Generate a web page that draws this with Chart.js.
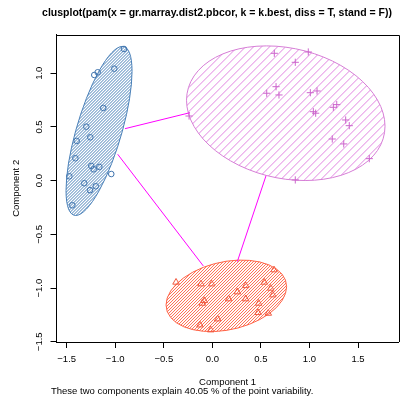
<!DOCTYPE html>
<html>
<head>
<meta charset="utf-8">
<script src="https://cdn.jsdelivr.net/npm/chart.js@4.4.0/dist/chart.umd.min.js"></script>
<style>
  html, body { margin: 0; padding: 0; background: #fff; }
  #wadah { width: 416px; height: 404px; }
</style>
</head>
<body>
<div id="wadah"><canvas id="grafik" width="416" height="404"></canvas></div>
<script>
// teks
const judul = 'clusplot(pam(x = gr.marray.dist2.pbcor, k = k.best, diss = T, stand = F))';
const subJudul = 'These two components explain 40.05 % of the point variability.';
const labelX = 'Component 1';
const labelY = 'Component 2';

// tick sumbu
const tickX = [-1.5, -1.0, -0.5, 0.0, 0.5, 1.0, 1.5];
const tickY = [-1.5, -1.0, -0.5, 0.0, 0.5, 1.0];

// klaster 1 (lingkaran biru)
const klaster1X = [-0.910, -1.010, -1.181, -1.216, -1.123, -1.298, -1.257, -1.397, -1.411,
                   -1.247, -1.164, -1.222, -1.041, -1.473, -1.319, -1.201, -1.260, -1.442];
const klaster1Y = [1.226, 1.043, 1.009, 0.984, 0.677, 0.503, 0.404, 0.370, 0.209,
                   0.137, 0.128, 0.106, 0.062, 0.041, -0.024, -0.052, -0.089, -0.229];

// klaster 2 (plus magenta)
const klaster2X = [0.638, 0.988, 0.854, 0.656, 0.560, 0.686, 1.009, 1.078, 1.040, 1.064,
                   1.246, 1.281, 1.373, 1.410, 1.235, 1.353, 1.616, -0.240, 0.854];
const klaster2Y = [1.186, 1.198, 1.102, 0.875, 0.814, 0.798, 0.819, 0.835, 0.642, 0.628,
                   0.683, 0.708, 0.565, 0.512, 0.388, 0.342, 0.205, 0.602, 0.007];

// klaster 3 (segitiga merah)
const klaster3X = [0.635, -0.374, -0.117, -0.007, 0.535, 0.343, 0.601, 0.257, 0.622, 0.168,
                   0.343, -0.083, -0.104, 0.477, 0.470, 0.576, 0.055, -0.127, -0.017];
const klaster3Y = [-0.831, -0.946, -0.962, -0.962, -0.946, -0.978, -1.002, -1.036, -1.064, -1.101,
                   -1.101, -1.117, -1.142, -1.142, -1.229, -1.235, -1.288, -1.344, -1.390];

// elips: pusat, setengah diameter sekawan (ke titik paling kanan) dan setengah tali busur vertikal
const elipsPusatX = [-1.167, 0.756, 0.144];
const elipsPusatY = [0.463, 0.628, -1.072];
const elipsUX = [0.340, 1.022, 0.621];
const elipsUY = [0.555, -0.121, 0.085];
const elipsV = [0.558, 0.615, 0.322];

// garis penghubung antar elips
const garisAwalX = [-0.900, -0.975, 0.553];
const garisAwalY = [0.484, 0.246, 0.047];
const garisAkhirX = [-0.230, -0.093, 0.257];
const garisAkhirY = [0.633, -0.794, -0.754];

// warna
const warnaGaris = ['#4a80b8', '#d67ed6', '#ff6347'];
const warnaArsir = ['#4a80b8', '#dd77dd', '#ff6a4d'];
const jarakArsir = [3, 8, 3];
const tebalArsir = [1, 0.9, 1];
const warnaTitik = ['#3f73ad', '#cc66cc', '#f05a40'];

const fontUtama = "'Liberation Sans', Arial, Helvetica, sans-serif";
Chart.defaults.font.family = fontUtama;
Chart.defaults.color = '#000';

function jadikanTitik(xs, ys) {
  return xs.map((x, i) => ({ x: x, y: ys[i] }));
}

function formatAngka(v) {
  return v.toFixed(1).replace('-', '\u2212');
}

function jalurElips(ctx, sx, sy, i) {
  const cx = sx.getPixelForValue(elipsPusatX[i]);
  const cy = sy.getPixelForValue(elipsPusatY[i]);
  const ux = sx.getPixelForValue(elipsPusatX[i] + elipsUX[i]) - cx;
  const uy = sy.getPixelForValue(elipsPusatY[i] + elipsUY[i]) - cy;
  const vy = sy.getPixelForValue(elipsPusatY[i] + elipsV[i]) - cy;
  ctx.beginPath();
  ctx.save();
  ctx.transform(ux, uy, 0, vy, cx, cy);
  ctx.arc(0, 0, 1, 0, Math.PI * 2);
  ctx.restore();
  ctx.closePath();
  return { cx: cx, cy: cy, lx: Math.abs(ux), ly: Math.sqrt(uy * uy + vy * vy) };
}

// plugin untuk elips berarsir (digambar di bawah titik)
const pluginElips = {
  id: 'elips',
  beforeDatasetsDraw(chart) {
    const ctx = chart.ctx;
    const sx = chart.scales.x, sy = chart.scales.y;
    const urutan = [1, 0, 2];
    urutan.forEach(i => {
      ctx.save();
      const b = jalurElips(ctx, sx, sy, i);
      ctx.clip();
      ctx.strokeStyle = warnaArsir[i];
      ctx.lineWidth = tebalArsir[i];
      ctx.beginPath();
      const x0 = b.cx - b.lx - 2, x1 = b.cx + b.lx + 2;
      const y0 = b.cy - b.ly - 2, y1 = b.cy + b.ly + 2;
      for (let k = x0 + y0; k <= x1 + y1; k += jarakArsir[i]) {
        ctx.moveTo(k - y1, y1);
        ctx.lineTo(k - y0, y0);
      }
      ctx.stroke();
      ctx.restore();
      ctx.save();
      jalurElips(ctx, sx, sy, i);
      ctx.strokeStyle = warnaGaris[i];
      ctx.lineWidth = 1;
      ctx.stroke();
      ctx.restore();
    });
  },
  afterDraw(chart) {
    const ctx = chart.ctx;
    const a = chart.chartArea;
    ctx.save();
    // bingkai atas dan kanan
    ctx.strokeStyle = '#000';
    ctx.lineWidth = 1;
    ctx.beginPath();
    ctx.moveTo(a.left, Math.round(a.top) + 0.5);
    ctx.lineTo(Math.round(a.right) + 0.5, Math.round(a.top) + 0.5);
    ctx.lineTo(Math.round(a.right) + 0.5, a.bottom);
    ctx.stroke();
    // judul dan sub judul
    ctx.fillStyle = '#000';
    ctx.textBaseline = 'middle';
    ctx.textAlign = 'center';
    ctx.font = 'bold 10.5px ' + fontUtama;
    ctx.fillText(judul, 217, 13);
    ctx.textAlign = 'left';
    ctx.font = '9.5px ' + fontUtama;
    ctx.fillText(subJudul, 51, 391.5);
    ctx.restore();
  }
};

const dataGaris = garisAwalX.map((x, i) => ({
  type: 'scatter',
  data: [{ x: x, y: garisAwalY[i] }, { x: garisAkhirX[i], y: garisAkhirY[i] }],
  showLine: true,
  borderColor: '#ff00ff',
  borderWidth: 1,
  pointRadius: 0,
  order: 2
}));

new Chart(document.getElementById('grafik'), {
  type: 'scatter',
  data: {
    datasets: [
      {
        data: jadikanTitik(klaster1X, klaster1Y),
        pointStyle: 'circle', pointRadius: 2.8, pointBorderWidth: 1,
        pointBorderColor: warnaTitik[0], pointBackgroundColor: 'rgba(0,0,0,0)', order: 1
      },
      {
        data: jadikanTitik(klaster2X, klaster2Y),
        pointStyle: 'cross', pointRadius: 3.6, pointBorderWidth: 1,
        pointBorderColor: warnaTitik[1], pointBackgroundColor: 'rgba(0,0,0,0)', order: 1
      },
      {
        data: jadikanTitik(klaster3X, klaster3Y),
        pointStyle: 'triangle', pointRadius: 3.8, pointBorderWidth: 1,
        pointBorderColor: warnaTitik[2], pointBackgroundColor: 'rgba(0,0,0,0)', order: 1
      }
    ].concat(dataGaris)
  },
  options: {
    responsive: false,
    animation: false,
    devicePixelRatio: 1,
    layout: { padding: { top: 34.7, right: 17.3, bottom: 0, left: 0 } },
    plugins: { legend: { display: false }, tooltip: { enabled: false } },
    scales: {
      x: {
        type: 'linear', position: 'bottom', min: -1.605, max: 1.919,
        afterFit(s) { s.height = 62; },
        afterBuildTicks(s) { s.ticks = tickX.map(v => ({ value: v })); },
        grid: { drawOnChartArea: false, drawTicks: true, tickLength: 6, color: '#000' },
        border: { display: true, color: '#000', width: 1 },
        ticks: { padding: 6, maxRotation: 0, font: { size: 9.5 }, callback: v => formatAngka(v) },
        title: { display: true, text: labelX, font: { size: 9.5 }, padding: { top: 0, bottom: 16.3 } }
      },
      y: {
        type: 'linear', position: 'left', min: -1.502, max: 1.359,
        afterFit(s) { s.width = 56.5; },
        afterBuildTicks(s) { s.ticks = tickY.map(v => ({ value: v })); },
        grid: { drawOnChartArea: false, drawTicks: true, tickLength: 6, color: '#000' },
        border: { display: true, color: '#000', width: 1 },
        ticks: { padding: 2, minRotation: 90, maxRotation: 90, crossAlign: 'center',
                 font: { size: 9.5 }, callback: v => formatAngka(v) },
        title: { display: true, text: labelY, font: { size: 9.5 }, padding: { top: 11, bottom: 0 } }
      }
    }
  },
  plugins: [pluginElips]
});
</script>
</body>
</html>
